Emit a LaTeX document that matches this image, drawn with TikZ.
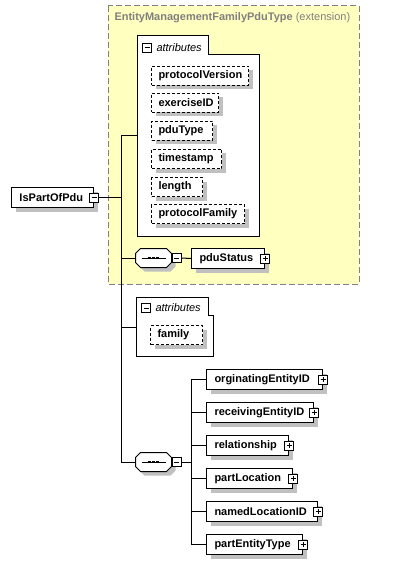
\documentclass[tikz,border=0pt]{standalone}
\usepackage{fontspec}
\setmainfont{Liberation Sans}
\usetikzlibrary{shadows}
\usetikzlibrary{positioning}

\definecolor{xsdyellow}{RGB}{255,255,192}
\definecolor{xsdshadow}{RGB}{192,192,192}
\definecolor{xsdgray}{RGB}{128,128,128}

\newcommand{\elemsize}{\fontsize{11}{13}\selectfont}

% octagon of a sequence compositor, drawn round the node #1
\newcommand{\seqoct}[1]{
  \draw[fill=white, shadowed] ([xshift=5pt]#1.north west) -- ([xshift=-5pt]#1.north east)
    -- ([yshift=-5pt]#1.north east) -- ([yshift=5pt]#1.south east)
    -- ([xshift=-5pt]#1.south east) -- ([xshift=5pt]#1.south west)
    -- ([yshift=5pt]#1.south west) -- ([yshift=-5pt]#1.north west) -- cycle;
  \draw ([xshift=6pt]#1.west) -- ([xshift=-6pt]#1.east);
  \foreach \dx in {-4,0,4}
    \fill ([xshift=\dx pt]#1.center) +(-1.3,-1.3) rectangle +(1.3,1.3);
}

\tikzset{
  shadowed/.style={general shadow={fill=xsdshadow, shadow xshift=4pt, shadow yshift=-4pt}},
  elem/.style={draw, fill=white, shadowed, anchor=north west, minimum height=20pt,
    inner xsep=8pt, inner ysep=0pt, text width=#1, align=left, font=\bfseries\elemsize},
  attr/.style={elem=#1, inner xsep=7pt, dash pattern=on 3pt off 2pt, minimum height=19pt},
  pm/.style={draw, solid, fill=white, minimum size=9pt, inner sep=0pt},
  minus/.style={pm, path picture={
      \draw ([xshift=2pt]path picture bounding box.west) -- ([xshift=-2pt]path picture bounding box.east);}},
  plus/.style={pm, path picture={
      \draw ([xshift=2pt]path picture bounding box.west) -- ([xshift=-2pt]path picture bounding box.east);
      \draw ([yshift=-2pt]path picture bounding box.north) -- ([yshift=2pt]path picture bounding box.south);}},
  seq/.style={rectangle, minimum width=35pt, minimum height=18pt, inner sep=0pt},
  attrlabel/.style={font=\itshape\elemsize, inner sep=0pt, anchor=west}
}

\begin{document}
\begin{tikzpicture}[x=1pt, y=-1pt, line width=1pt]
  \useasboundingbox (0,0) rectangle (400,564);

  % extension base type
  \draw[xsdgray, dash pattern=on 6pt off 3pt, fill=xsdyellow] (108,6) rectangle (359,284);
  \node[anchor=west, inner sep=0pt, text=xsdgray, font=\elemsize] (ext) at (114,18)
    {\textbf{EntityManagementFamilyPduType} (extension)};

  % first attribute group
  \draw[fill=white] (137,36) -- (208,36) -- (208,55) -- (259,55) -- (259,236) -- (137,236) -- cycle;
  \node[minus] (am1) at (147,48) {};
  \node[attrlabel, right=4pt of am1] (atl1) {attributes};
  \foreach \nm/\txt/\w/\y in {pv/protocolVersion/83/66, ex/exerciseID/53/93, pt/pduType/47/121,
      ts/timestamp/56/149, ln/length/37/177, pf/protocolFamily/79/204}
    \node[attr=\w pt] (\nm) at (151,\y) {\txt};

  % root element
  \node[elem=66pt] (isp) at (11,187) {IsPartOfPdu};
  \node[minus] (ispm) at (isp.east) {};

  \coordinate (tr1) at (121,136);
  \coordinate (tr2) at (121,462);
  \coordinate (att1) at (137,136);
  \coordinate (att2) at (136,327);
  \draw (ispm.east) -- (ispm.east -| tr1);
  \draw (tr1) -- (tr2);
  \draw (tr1) -- (att1);

  % first sequence
  \node[seq] (seq1) at (153.5,258) {};
  \seqoct{seq1}
  \node[minus, anchor=west] (seq1m) at (seq1.east) {};
  \node[elem=57pt] (pdust) at (191,248) {pduStatus};
  \node[plus] (pdustp) at (pdust.east) {};
  \draw (seq1.west -| tr1) -- (seq1.west);
  \draw (seq1m.east) -- (pdust.west);

  % second attribute group
  \draw[fill=white] (136,297) -- (208,297) -- (208,315) -- (213,315) -- (213,356) -- (136,356) -- cycle;
  \node[minus] (am2) at (146,308) {};
  \node[attrlabel, right=4pt of am2] (atl2) {attributes};
  \node[attr=38pt] (fam) at (150,325) {family};
  \draw (att2 -| tr1) -- (att2);

  % second sequence
  \node[seq] (seq2) at (153.5,462) {};
  \seqoct{seq2}
  \node[minus, anchor=west] (seq2m) at (seq2.east) {};
  \draw (tr2) -- (seq2.west);
  \coordinate (bus1) at (191,379);
  \coordinate (bus2) at (191,544);
  \draw (seq2m.east) -- (seq2m.east -| bus1);
  \draw (bus1) -- (bus2);
  \foreach \nm/\txt/\w/\y in {orig/orginatingEntityID/100/369, recv/receivingEntityID/91/402,
      rel/relationship/66/435, ploc/partLocation/70/468, nloc/namedLocationID/95/501,
      pent/partEntityType/80/534}{
    \node[elem=\w pt] (\nm) at (206,\y) {\txt};
    \node[plus] (\nm p) at (\nm.east) {};
    \draw (\nm.west -| bus1) -- (\nm.west);
  }
\end{tikzpicture}
\end{document}
